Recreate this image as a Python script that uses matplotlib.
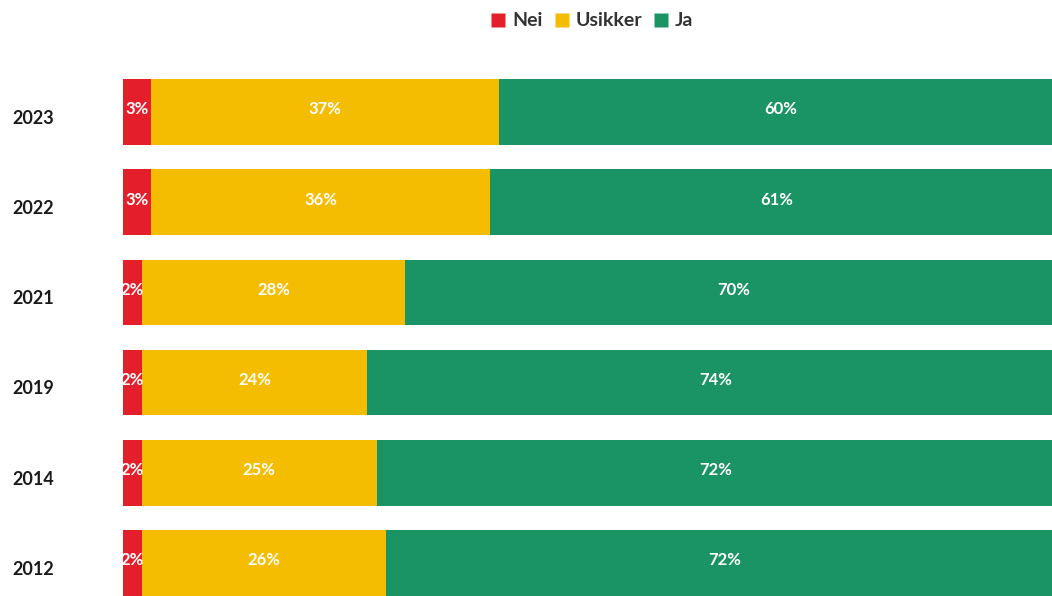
import matplotlib.pyplot as plt
import matplotlib.transforms as mtransforms
from matplotlib.lines import Line2D

# data
years = ["2023", "2022", "2021", "2019", "2014", "2012"]
nei = [3, 3, 2, 2, 2, 2]
usikker = [37, 36, 28, 24, 25, 26]
ja = [60, 61, 70, 74, 72, 72]

series_names = ["Nei", "Usikker", "Ja"]
colors = ["#E41E2B", "#F5BD02", "#1A9465"]

plt.rcParams["font.family"] = ["Lato", "DejaVu Sans"]

fig = plt.figure(figsize=(10.52, 5.96), dpi=100)
ax = fig.add_axes([123 / 1052, -12 / 596, 940 / 1052, 541 / 596])

ypos = list(range(len(years)))
left = [0] * len(years)
for vals, col in zip([nei, usikker, ja], colors):
    ax.barh(ypos, vals, left=left, height=0.73, color=col, edgecolor="none")
    for y, l, v in zip(ypos, left, vals):
        ax.text(l + v / 2, y - 0.03, f"{v}%", ha="center", va="center",
                color="white", fontsize=12, fontweight="bold")
    left = [a + b for a, b in zip(left, vals)]

ax.set_xlim(0, 100)
ax.set_ylim(len(years) - 0.5, -0.5)
ax.axis("off")

# year labels to the left of the bars
trans = mtransforms.blended_transform_factory(ax.transAxes, ax.transData)
for y, yr in zip(ypos, years):
    ax.text(-0.096, y + 0.07, yr, transform=trans, ha="center", va="center",
            fontsize=13, fontweight="bold", color="#1a1a1a")

handles = [Line2D([], [], marker="s", linestyle="none", markersize=10,
                  markerfacecolor=c, markeredgecolor="none") for c in colors]
leg = fig.legend(handles, series_names, loc="center", bbox_to_anchor=(592 / 1052, 1 - 21 / 596),
                 ncol=3, frameon=False, handlelength=0.8, handletextpad=0.3,
                 columnspacing=0.6, prop={"size": 14, "weight": "bold"})
for t in leg.get_texts():
    t.set_color("#333333")

fig.savefig("out.png", dpi=100)
